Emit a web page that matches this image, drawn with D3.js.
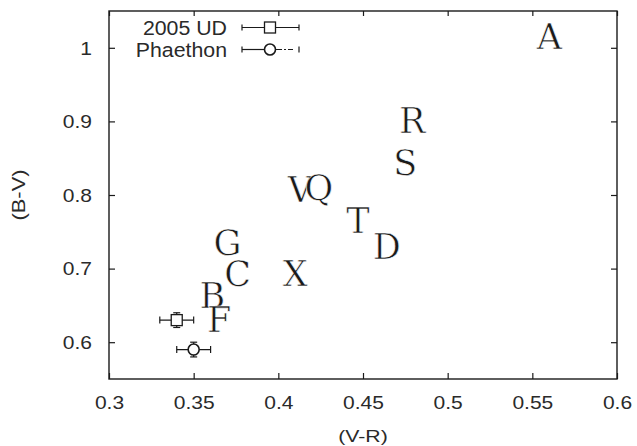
<!DOCTYPE html>
<html>
<head>
<meta charset="utf-8">
<script src="https://cdn.jsdelivr.net/npm/d3@7"></script>
<style>
  html, body { margin: 0; padding: 0; background: #fff; }
  svg { display: block; }
</style>
</head>
<body>
<svg id="chart" width="637" height="446"></svg>
<script>
// ---- data ----
const xTicks = [0.3, 0.35, 0.4, 0.45, 0.5, 0.55, 0.6];
const xTickLabels = ["0.3", "0.35", "0.4", "0.45", "0.5", "0.55", "0.6"];
const yTicks = [0.6, 0.7, 0.8, 0.9, 1.0];
const yTickLabels = ["0.6", "0.7", "0.8", "0.9", "1"];

const objNames = ["A", "R", "S", "V", "Q", "T", "D", "G", "C", "X", "B", "F"];
const objVR    = [0.560, 0.479, 0.475, 0.413, 0.424, 0.447, 0.464, 0.370, 0.376, 0.410, 0.361, 0.365];
const objBV    = [1.015, 0.902, 0.844, 0.808, 0.811, 0.766, 0.730, 0.735, 0.694, 0.694, 0.663, 0.631];

const seriesNames = ["2005 UD", "Phaethon"];
const seriesVR    = [0.34, 0.35];
const seriesBV    = [0.63, 0.59];
const seriesVRerr = [0.01, 0.01];
const seriesBVerr = [0.01, 0.01];
const seriesShape = ["square", "circle"];

const xLabel = "(V-R)";
const yLabel = "(B-V)";

// ---- layout ----
const L = 109, R = 617, T = 11, B = 379;
const ink = "#1a1a1a";
const sansFont = "'Liberation Sans', Arial, Helvetica, sans-serif";
const letterFont = "'DejaVu Serif', serif";
const tickSX = 1.2;

const svg = d3.select("#chart");
const x = d3.scaleLinear().domain([0.3, 0.6]).range([L, R]);
const y = d3.scaleLinear().domain([0.55, 1.05]).range([B, T]);

// axes
const gx = svg.append("g").attr("transform", `translate(0,${B})`)
  .call(d3.axisBottom(x).tickValues(xTicks).tickSize(-6).tickSizeOuter(0)
        .tickFormat((d, i) => xTickLabels[i]));
gx.selectAll("text")
  .attr("y", 30).attr("dy", null)
  .attr("transform", `scale(${tickSX},1)`);

const gxt = svg.append("g").attr("transform", `translate(0,${T})`)
  .call(d3.axisTop(x).tickValues(xTicks).tickSize(-5).tickSizeOuter(0).tickFormat(""));

const gy = svg.append("g").attr("transform", `translate(${L},0)`)
  .call(d3.axisLeft(y).tickValues(yTicks).tickSize(-6).tickSizeOuter(0)
        .tickFormat((d, i) => yTickLabels[i]));
gy.selectAll("text")
  .attr("x", -17 / tickSX).attr("dy", "0.36em")
  .attr("transform", `scale(${tickSX},1)`);

const gyr = svg.append("g").attr("transform", `translate(${R},0)`)
  .call(d3.axisRight(y).tickValues(yTicks).tickSize(-6).tickSizeOuter(0).tickFormat(""));

[gx, gxt, gy, gyr].forEach(g => {
  g.select(".domain").remove();
  g.selectAll("line").attr("stroke", ink).attr("stroke-width", 1.2);
  g.selectAll("text").attr("fill", "#2a2a2a")
    .style("font-family", sansFont).style("font-size", "17.5px");
});

// frame
svg.append("rect").attr("x", L).attr("y", T).attr("width", R - L).attr("height", B - T)
  .attr("fill", "none").attr("stroke", ink).attr("stroke-width", 1.4);

// axis titles
svg.append("text")
  .attr("transform", `translate(${(L + R) / 2},442) scale(1.25,1)`)
  .attr("text-anchor", "middle").attr("fill", "#2a2a2a")
  .style("font-family", sansFont).style("font-size", "17px")
  .text(xLabel);
svg.append("text")
  .attr("transform", `translate(25,${(T + B) / 2}) rotate(-90) scale(1.25,1)`)
  .attr("text-anchor", "middle").attr("fill", "#2a2a2a")
  .style("font-family", sansFont).style("font-size", "17.5px")
  .text(yLabel);

// object letters (serif look; a faint white outline thins the glyph strokes)
const objs = objNames.map((n, i) => ({ n, vr: objVR[i], bv: objBV[i] }));
svg.append("g").selectAll("text").data(objs).join("text")
  .attr("x", d => x(d.vr)).attr("y", d => y(d.bv)).attr("dy", "0.36em")
  .attr("text-anchor", "middle").attr("fill", "#1a1a1a")
  .attr("stroke", "#fff").attr("stroke-width", 0.6).attr("paint-order", "fill")
  .style("font-family", letterFont).style("font-size", "35px")
  .text(d => d.n);

// error-bar points
function drawMarker(g, shape, cx, cy) {
  if (shape === "square") {
    g.append("rect").attr("x", cx - 5.5).attr("y", cy - 5.5).attr("width", 11).attr("height", 11)
      .attr("fill", "#fff").attr("stroke", ink).attr("stroke-width", 1.3);
  } else {
    g.append("circle").attr("cx", cx).attr("cy", cy).attr("r", 5.5)
      .attr("fill", "#fff").attr("stroke", ink).attr("stroke-width", 1.6);
  }
}

const pts = svg.append("g");
seriesNames.forEach((name, i) => {
  const cx = x(seriesVR[i]), cy = y(seriesBV[i]);
  const x0 = x(seriesVR[i] - seriesVRerr[i]), x1 = x(seriesVR[i] + seriesVRerr[i]);
  const y0 = y(seriesBV[i] - seriesBVerr[i]), y1 = y(seriesBV[i] + seriesBVerr[i]);
  const g = pts.append("g").attr("stroke", ink).attr("stroke-width", 1.2);
  g.append("line").attr("x1", x0).attr("x2", x1).attr("y1", cy).attr("y2", cy);
  g.append("line").attr("x1", x0).attr("x2", x0).attr("y1", cy - 3.5).attr("y2", cy + 3.5);
  g.append("line").attr("x1", x1).attr("x2", x1).attr("y1", cy - 3.5).attr("y2", cy + 3.5);
  g.append("line").attr("x1", cx).attr("x2", cx).attr("y1", y0).attr("y2", y1);
  g.append("line").attr("x1", cx - 3.5).attr("x2", cx + 3.5).attr("y1", y0).attr("y2", y0);
  g.append("line").attr("x1", cx - 3.5).attr("x2", cx + 3.5).attr("y1", y1).attr("y2", y1);
  drawMarker(pts, seriesShape[i], cx, cy);
});

// legend
const leg = svg.append("g");
seriesNames.forEach((name, i) => {
  const ly = 27.5 + i * 22;
  leg.append("text")
    .attr("transform", `translate(227,${ly}) scale(1.04,1)`)
    .attr("dy", "0.36em").attr("text-anchor", "end").attr("fill", "#2a2a2a")
    .style("font-family", sansFont).style("font-size", "20.5px")
    .text(name);
  const g = leg.append("g").attr("stroke", ink).attr("stroke-width", 1.2);
  const a = 242, b = 299, c = 270;
  if (i === 0) {
    g.append("line").attr("x1", a).attr("x2", b).attr("y1", ly).attr("y2", ly);
  } else {
    g.append("line").attr("x1", a).attr("x2", c).attr("y1", ly).attr("y2", ly);
    g.append("line").attr("x1", c).attr("x2", b).attr("y1", ly).attr("y2", ly)
      .attr("stroke-dasharray", "12,2,2,2,5,20");
  }
  g.append("line").attr("x1", a).attr("x2", a).attr("y1", ly - 3).attr("y2", ly + 3);
  g.append("line").attr("x1", b).attr("x2", b).attr("y1", ly - 3).attr("y2", ly + 3);
  drawMarker(leg, seriesShape[i], c, ly);
});
</script>
</body>
</html>
